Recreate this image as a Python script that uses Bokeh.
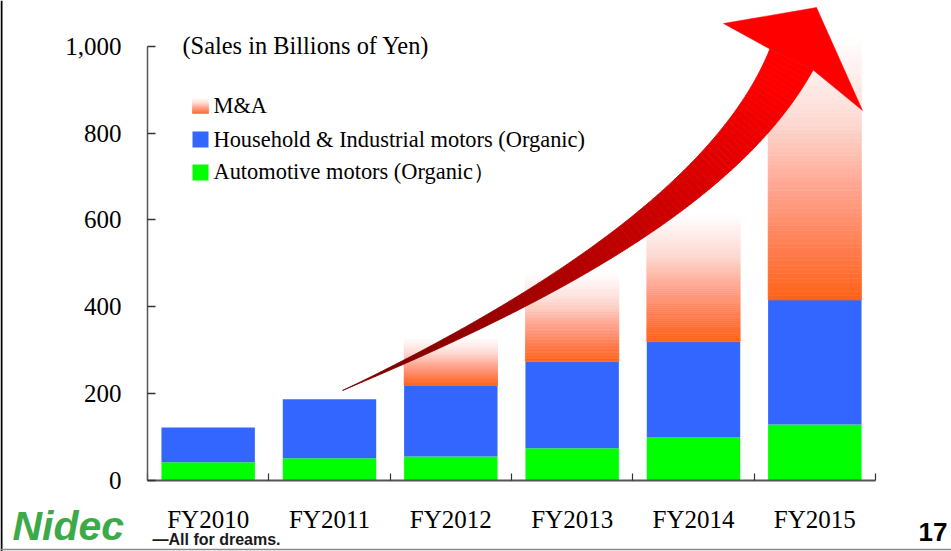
import numpy as np
from bokeh.plotting import figure
from bokeh.models import Range1d, FixedTicker, NumeralTickFormatter, Label, ColumnDataSource, Span
from bokeh.embed import file_html
from bokeh.resources import INLINE

# ---------------- data ----------------
years = ["FY2010", "FY2011", "FY2012", "FY2013", "FY2014", "FY2015"]
automotive = [41, 50, 54, 73, 98, 128]
household = [80, 136, 164, 200, 221, 287]
ma = [0, 0, 111, 203, 295, 605]
y_ticks = [0, 200, 400, 600, 800, 1000]
title_text = "(Sales in Billions of Yen)"
legend_labels = ["M&A", "Household & Industrial motors (Organic)", "Automotive motors (Organic\uff09"]

# ---------------- layout (frame covers the whole canvas; axes pinned at 0) ----------------
W, H = 951, 551
X0_PAGE, X_SCALE = 147.0, 121.33   # page px of x=0, px per category
Y0_PAGE, Y_SCALE = 479.5, 0.4335   # page px of y=0, px per billion yen
NCAT = len(years)

def px(page_x):
    return (page_x - X0_PAGE) / X_SCALE

def py(page_y):
    return (Y0_PAGE - page_y) / Y_SCALE

def label_y(baseline_page_y, font_px):
    # labels are placed by their middle; convert a wanted baseline
    return py(baseline_page_y - 0.37 * font_px)

p = figure(width=W, height=H,
           x_range=Range1d(px(0), px(W)), y_range=Range1d(py(H), py(0)),
           output_backend="svg", toolbar_location=None,
           min_border_left=0, min_border_right=0, min_border_top=0, min_border_bottom=0)
p.outline_line_color = None
p.xgrid.visible = False
p.ygrid.visible = False
p.background_fill_color = "white"
p.border_fill_color = "white"

SERIF = "Liberation Serif"
AX_COL = "#555555"

# y axis
p.yaxis.fixed_location = 0
p.yaxis.ticker = FixedTicker(ticks=y_ticks)
p.yaxis.formatter = NumeralTickFormatter(format="0,0")
p.yaxis.bounds = (0, 1000)
p.yaxis.axis_line_color = AX_COL
p.yaxis.axis_line_width = 1.5
p.yaxis.major_tick_in = 8
p.yaxis.major_tick_out = 0
p.yaxis.major_tick_line_color = "#333333"
p.yaxis.major_tick_line_width = 1.5
p.yaxis.minor_tick_line_color = None
p.yaxis.major_label_text_font = SERIF
p.yaxis.major_label_text_font_size = "25px"
p.yaxis.major_label_text_color = "black"
p.yaxis.major_label_standoff = 26

# x axis: labels at centres, ticks at category boundaries
centers = [i + 0.5 for i in range(NCAT)]
p.xaxis.fixed_location = 0
p.xaxis.ticker = FixedTicker(ticks=centers, minor_ticks=list(range(NCAT + 1)))
p.xaxis.major_label_overrides = {c: y for c, y in zip(centers, years)}
p.xaxis.bounds = (0, NCAT)
p.xaxis.axis_line_color = AX_COL
p.xaxis.axis_line_width = 2
p.xaxis.major_tick_line_color = None
p.xaxis.minor_tick_in = 7
p.xaxis.minor_tick_out = 0
p.xaxis.minor_tick_line_color = "#333333"
p.xaxis.minor_tick_line_width = 1.2
p.xaxis.major_label_text_font = SERIF
p.xaxis.major_label_text_font_size = "25px"
p.xaxis.major_label_text_color = "black"
p.xaxis.major_label_standoff = 20

# ---------------- bars ----------------
BAR_W = 0.77
GREEN = "#00FF00"
BLUE = "#3366FF"

auto_top = list(automotive)
house_top = [a + h for a, h in zip(automotive, household)]
p.vbar(x=centers, bottom=0, top=auto_top, width=BAR_W, fill_color=GREEN, line_color=None)
p.vbar(x=centers, bottom=auto_top, top=house_top, width=BAR_W, fill_color=BLUE, line_color=None)

# M&A gradient (orange at the bottom fading to white at the top)
STOPS = [(0.0, (255, 98, 22)), (0.18, (255, 122, 74)), (0.43, (255, 165, 144)),
         (0.68, (253, 218, 210)), (0.87, (255, 240, 238)), (1.0, (255, 255, 255))]

def grad(f):
    for (f0, c0), (f1, c1) in zip(STOPS[:-1], STOPS[1:]):
        if f <= f1:
            u = (f - f0) / (f1 - f0)
            c = [int(round(a + (b - a) * u)) for a, b in zip(c0, c1)]
            return "#%02x%02x%02x" % tuple(c)
    return "#ffffff"

NS = 60
mx, mb, mt, mc = [], [], [], []
for c, base, v in zip(centers, house_top, ma):
    if v <= 0:
        continue
    for k in range(NS):
        mx.append(c)
        mb.append(base + v * k / NS)
        mt.append(base + v * (k + 1) / NS)
        mc.append(grad((k + 0.5) / NS))
p.vbar(x="x", bottom="b", top="t", width=BAR_W, fill_color="c", line_color="c", line_width=0.6,
       source=ColumnDataSource(dict(x=mx, b=mb, t=mt, c=mc)))

# ---------------- curved arrow (decoration, page pixels -> data) ----------------
P = [np.array(v, float) for v in [(342, 390), (537, 302.5), (726, 194), (791, 59)]]
NA = 90
ts = np.linspace(0, 1, NA + 1)

def bez(t):
    m = 1 - t
    return m**3 * P[0] + 3 * m**2 * t * P[1] + 3 * m * t**2 * P[2] + t**3 * P[3]

def dbez(t):
    m = 1 - t
    return 3 * m**2 * (P[1] - P[0]) + 6 * m * t * (P[2] - P[1]) + 3 * t**2 * (P[3] - P[2])

Ls, Rs = [], []
for t in ts:
    b = bez(t)
    d = dbez(t)
    d = d / np.hypot(*d)
    n = np.array([d[1], -d[0]])
    w = 48 * t**1.15
    Ls.append(b + n * w / 2)
    Rs.append(b - n * w / 2)

axs, ays, acs = [], [], []
for i in range(NA):
    poly = [Ls[i], Ls[i + 1], Rs[i + 1], Rs[i]]
    axs.append([px(q[0]) for q in poly])
    ays.append([py(q[1]) for q in poly])
    tm = (ts[i] + ts[i + 1]) / 2
    r = int(min(255, 115 + 150 * tm))
    acs.append("#%02x0000" % r)
p.patches(xs=axs, ys=ays, fill_color=acs, line_color=acs, line_width=0.8)

head = [Ls[-1], (723, 23), (816, 7), (862, 110), Rs[-1]]
p.patch(x=[px(q[0]) for q in head], y=[py(q[1]) for q in head], fill_color="#FF0000", line_color="#FF0000", line_width=0.5)

# ---------------- title and legend ----------------
p.add_layout(Label(x=px(182), y=label_y(54, 24.4), text=title_text, text_font=SERIF, text_font_size="24.4px",
                   text_color="black", text_baseline="middle"))

LEG_BASE = [113, 147, 179]
SW_TOP = [97, 131, 164]
for lab, yb in zip(legend_labels, LEG_BASE):
    p.add_layout(Label(x=px(213), y=label_y(yb, 22.4), text=lab, text_font=SERIF, text_font_size="22.4px",
                       text_color="black", text_baseline="middle"))

# swatches
p.quad(left=px(192), right=px(208), top=py(SW_TOP[1]), bottom=py(SW_TOP[1] + 16), fill_color=BLUE, line_color=None)
p.quad(left=px(192), right=px(208), top=py(SW_TOP[2]), bottom=py(SW_TOP[2] + 16), fill_color=GREEN, line_color=None)
NSW = 16
sw_b = [py(SW_TOP[0] + 16 - k) for k in range(NSW)]
sw_t = [py(SW_TOP[0] + 16 - k - 1) for k in range(NSW)]
sw_c = [grad((k + 0.5) / NSW) for k in range(NSW)]
p.quad(left=px(192), right=px(208), top=sw_t, bottom=sw_b, fill_color=sw_c, line_color=sw_c, line_width=0.5)

# ---------------- slide frame lines, logo and page number ----------------
p.add_layout(Span(location=px(1), dimension="height", line_color="black", line_width=2))
p.add_layout(Span(location=py(549), dimension="width", line_color="#8a8a8a", line_width=1.5))

p.add_layout(Label(x=px(12), y=label_y(541, 41), text="Nidec", text_font="Liberation Sans",
                   text_font_style="bold italic", text_font_size="41px", text_color="#3DAA4A",
                   text_baseline="middle"))
p.add_layout(Label(x=px(152), y=label_y(545, 16), text="\u2014All for dreams.", text_font="Liberation Sans",
                   text_font_style="bold", text_font_size="16px", text_color="#1a1a1a",
                   text_baseline="middle"))
p.add_layout(Label(x=px(947), y=label_y(541, 26), text="17", text_font="Liberation Sans",
                   text_font_style="bold", text_font_size="26px", text_color="black",
                   text_align="right", text_baseline="middle"))

open("out.html", "w").write(file_html(p, INLINE))
